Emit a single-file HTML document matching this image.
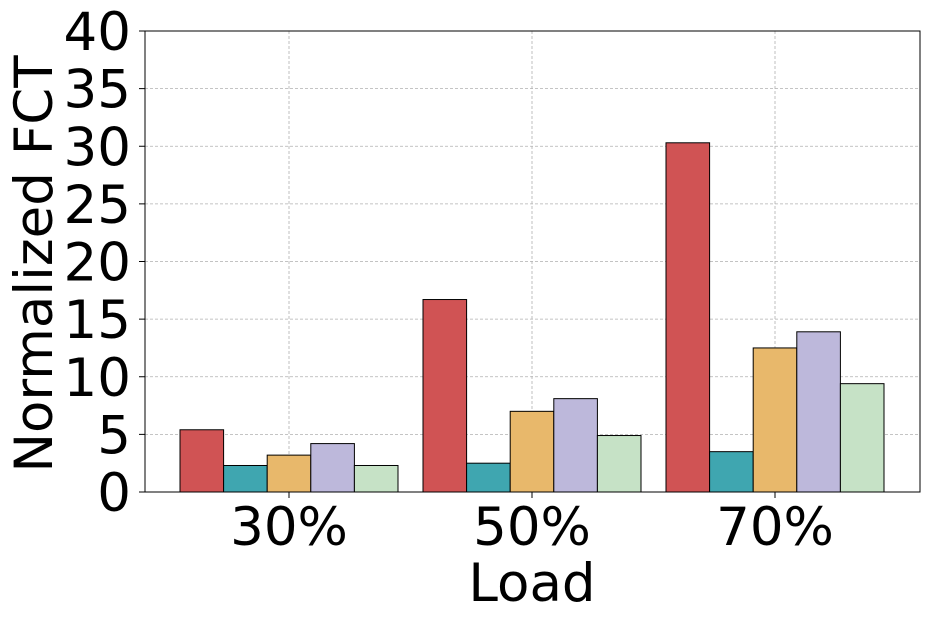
<!DOCTYPE html>
<html><head><meta charset="utf-8"><style>
body{margin:0;background:#fff}
text{font-family:"DejaVu Sans","Liberation Sans",sans-serif}
</style></head><body>
<svg id="chart" width="929" height="621" xmlns="http://www.w3.org/2000/svg"></svg>
<script>
const categories=["30%","50%","70%"];
const seriesA=[5.4,16.7,30.3];
const seriesB=[2.3,2.5,3.5];
const seriesC=[3.2,7.0,12.5];
const seriesD=[4.2,8.1,13.9];
const seriesE=[2.3,4.9,9.4];
const yTicks=[0,5,10,15,20,25,30,35,40];
const series=[seriesA,seriesB,seriesC,seriesD,seriesE];
const colors=["#d05354","#3fa6b0","#e8b86b","#bdb8db","#c6e2c6"];
const NS="http://www.w3.org/2000/svg";
const svg=document.getElementById('chart');
const L=145,R=920,T=31,B=492,yMax=40;
const y=v=>B-(v/yMax)*(B-T);
const xc=i=>289+i*243;
const bw=43.6;
function mk(t,a,p){const e=document.createElementNS(NS,t);for(const k in a)e.setAttribute(k,a[k]);(p||svg).appendChild(e);return e;}
const grid=mk('g',{});
yTicks.forEach(v=>{const l=mk('line',{x1:L,x2:R,y1:y(v),y2:y(v),stroke:'#b0b0b0','stroke-width':0.8,'stroke-dasharray':'3,2'},grid);});
categories.forEach((c,i)=>{const l=mk('line',{x1:xc(i),x2:xc(i),y1:T,y2:B,stroke:'#b0b0b0','stroke-width':0.8,'stroke-dasharray':'3,2'},grid);});
series.forEach((s,si)=>{s.forEach((v,i)=>{const x0=xc(i)-2.5*bw+si*bw;const r=mk('rect',{x:x0,y:y(v),width:bw,height:B-y(v),fill:colors[si],stroke:'#000','stroke-width':1});});});
const fr=mk('rect',{x:L,y:T,width:R-L,height:B-T,fill:'none',stroke:'#000','stroke-width':1});
yTicks.forEach(v=>{const t=mk('text',{x:131,y:y(v)+19,'text-anchor':'end','font-size':53});t.textContent=v;
const k=mk('line',{x1:L-6,x2:L,y1:y(v),y2:y(v),stroke:'#000'});});
categories.forEach((c,i)=>{const t=mk('text',{x:xc(i),y:545,'text-anchor':'middle','font-size':53});t.textContent=c;
const k=mk('line',{x1:xc(i),x2:xc(i),y1:B,y2:B+6,stroke:'#000'});});
const xl=mk('text',{x:532,y:601,'text-anchor':'middle','font-size':53});xl.textContent='Load';
const yl=mk('text',{x:0,y:0,'text-anchor':'middle','font-size':53,transform:'translate(52,264) rotate(-90)'});yl.textContent='Normalized FCT';
</script>
</body></html>
